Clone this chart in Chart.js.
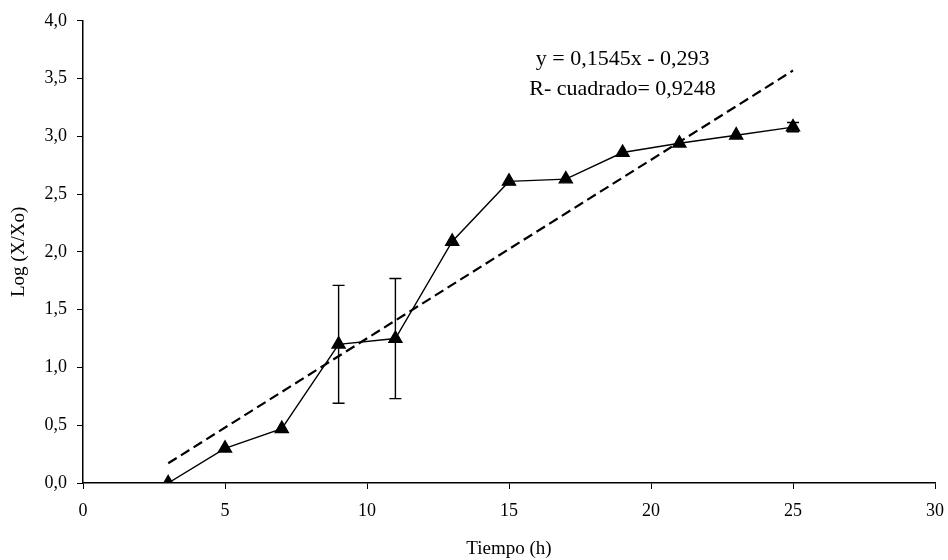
<!DOCTYPE html>
<html>
<head>
<meta charset="utf-8">
<script src="https://cdn.jsdelivr.net/npm/chart.js@4.4.1/dist/chart.umd.min.js"></script>
<style>
  html, body { margin: 0; padding: 0; background: #fff; }
  #wrap { width: 948px; height: 560px; }
</style>
</head>
<body>
<div id="wrap"><canvas id="c" width="948" height="560"></canvas></div>
<script>
// Sampling times (h)
const tiempo = [3, 5, 7, 9, 11, 13, 15, 17, 19, 21, 23, 25];
// Mean Log (X/Xo)
const logXXo = [0.00, 0.30, 0.47, 1.20, 1.25, 2.09, 2.61, 2.63, 2.86, 2.94, 3.01, 3.08];
// Standard deviation for each mean
const desv = [0, 0, 0, 0.51, 0.52, 0, 0, 0, 0, 0, 0, 0.04];
// Linear fit
const pendiente = 0.1545;
const intercepto = -0.293;
const r2 = 0.9248;
const xTicks = [0, 5, 10, 15, 20, 25, 30];
const yTicks = [0, 0.5, 1, 1.5, 2, 2.5, 3, 3.5, 4];

const fmt = (v, d) => v.toFixed(d).replace('.', ',');
const FONT = "'Liberation Serif', 'Times New Roman', serif";

const puntos = tiempo.map((t, i) => ({ x: t, y: logXXo[i] }));
const xMin = tiempo[0], xMax = tiempo[tiempo.length - 1];
const tendencia = [
  { x: xMin, y: pendiente * xMin + intercepto },
  { x: xMax, y: pendiente * xMax + intercepto }
];

// Vertical error bars with caps
const errorBars = {
  id: 'errorBars',
  afterDatasetsDraw(chart) {
    const { ctx, scales: { x, y } } = chart;
    ctx.save();
    ctx.strokeStyle = '#000';
    ctx.lineWidth = 1.4;
    tiempo.forEach((t, i) => {
      const d = desv[i];
      if (!d) return;
      const px = x.getPixelForValue(t);
      const top = y.getPixelForValue(logXXo[i] + d);
      const bot = y.getPixelForValue(logXXo[i] - d);
      ctx.beginPath();
      ctx.moveTo(px, top); ctx.lineTo(px, bot);
      ctx.moveTo(px - 6, top); ctx.lineTo(px + 6, top);
      ctx.moveTo(px - 6, bot); ctx.lineTo(px + 6, bot);
      ctx.stroke();
    });
    ctx.restore();
  }
};

// Fit equation text
const ecuacion = {
  id: 'ecuacion',
  afterDraw(chart) {
    const { ctx, scales: { x, y } } = chart;
    ctx.save();
    ctx.fillStyle = '#000';
    ctx.font = '22px ' + FONT;
    ctx.textAlign = 'center';
    ctx.textBaseline = 'middle';
    const cx = x.getPixelForValue(19);
    ctx.fillText('y = ' + fmt(pendiente, 4) + 'x - ' + fmt(-intercepto, 3), cx, y.getPixelForValue(3.67));
    ctx.fillText('R- cuadrado= ' + fmt(r2, 4), cx, y.getPixelForValue(3.41));
    ctx.restore();
  }
};

new Chart(document.getElementById('c'), {
  type: 'scatter',
  data: {
    datasets: [
      {
        data: tendencia,
        showLine: true,
        borderColor: '#000',
        borderWidth: 2.2,
        borderDash: [10, 5],
        pointRadius: 0,
        fill: false
      },
      {
        data: puntos,
        showLine: true,
        borderColor: '#000',
        borderWidth: 1.4,
        pointStyle: 'triangle',
        pointRadius: 7.5,
        pointBackgroundColor: '#000',
        pointBorderColor: '#000',
        fill: false
      }
    ]
  },
  options: {
    responsive: false,
    animation: false,
    layout: { padding: { top: 20, right: 0, left: 0, bottom: 0 } },
    plugins: { legend: { display: false }, tooltip: { enabled: false } },
    scales: {
      x: {
        type: 'linear',
        min: 0, max: 30,
        afterBuildTicks: s => { s.ticks = xTicks.map(v => ({ value: v })); },
        afterFit: s => { s.height = 77; s.paddingLeft = 0; s.paddingRight = 13; },
        ticks: { color: '#000', font: { family: FONT, size: 18 }, padding: 11,
                 callback: v => String(v), maxRotation: 0 },
        grid: { drawOnChartArea: false, drawTicks: true, tickLength: 6, color: '#000' },
        border: { color: '#000', width: 1.5 },
        title: { display: true, text: 'Tiempo (h)', color: '#000',
                 font: { family: FONT, size: 19 }, padding: { top: 4, bottom: 0 } }
      },
      y: {
        min: 0, max: 4,
        afterBuildTicks: s => { s.ticks = yTicks.map(v => ({ value: v })); },
        afterFit: s => { s.width = 83; },
        ticks: { color: '#000', font: { family: FONT, size: 18 }, padding: 10,
                 callback: v => fmt(v, 1) },
        grid: { drawOnChartArea: false, drawTicks: true, tickLength: 6, color: '#000' },
        border: { color: '#000', width: 1.5 },
        title: { display: true, text: 'Log (X/Xo)', color: '#000',
                 font: { family: FONT, size: 19 }, padding: { top: 8, bottom: 4 } }
      }
    }
  },
  plugins: [errorBars, ecuacion]
});
</script>
</body>
</html>
